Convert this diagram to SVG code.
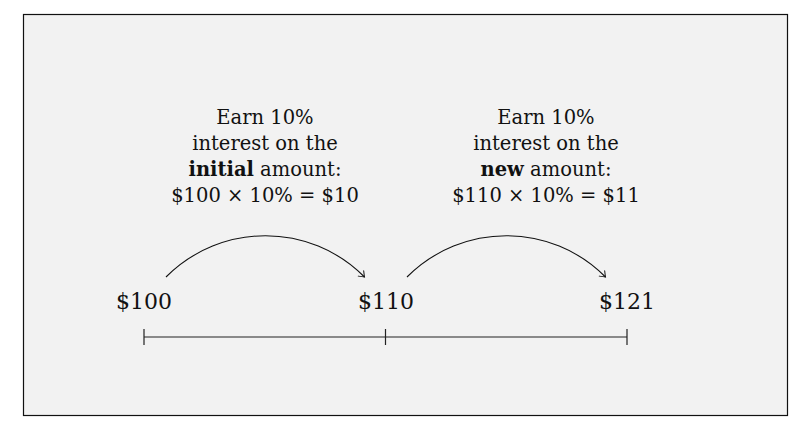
<svg xmlns="http://www.w3.org/2000/svg" width="803" height="426" viewBox="0 0 803 426">
  <style>
    .t { font-family: "DejaVu Serif", "Liberation Serif", serif; font-size: 19.5px; fill: #111; text-anchor: middle; }
    .b { font-weight: bold; }
    .big { font-family: "DejaVu Serif", "Liberation Serif", serif; font-size: 22px; fill: #111; text-anchor: middle; }
    .arc { fill: none; stroke: #111; stroke-width: 1.1; marker-end: url(#arr); }
    .ln { fill: none; stroke: #222; stroke-width: 1.2; }
  </style>
  <defs>
    <marker id="arr" viewBox="-6 -5 8 10" refX="0" refY="0" markerWidth="8" markerHeight="10" markerUnits="userSpaceOnUse" orient="auto">
      <path d="M-5,-3.8 Q-1.5,-1 0,0 Q-1.5,1 -5,3.8" fill="none" stroke="#111" stroke-width="1" stroke-linecap="round"/>
    </marker>
  </defs>
  <rect id="frame" x="23.5" y="14.5" width="764" height="401" fill="#f2f2f2" stroke="#111" stroke-width="1.2"/>

  <g id="note1">
    <text class="t" x="265" y="124">Earn 10%</text>
    <text class="t" x="265" y="150">interest on the</text>
    <text class="t" x="265" y="176"><tspan class="b">initial</tspan> amount:</text>
    <text class="t" x="265" y="202">$100 × 10% = $10</text>
  </g>
  <g id="note2">
    <text class="t" x="546" y="124">Earn 10%</text>
    <text class="t" x="546" y="150">interest on the</text>
    <text class="t" x="546" y="176"><tspan class="b">new</tspan> amount:</text>
    <text class="t" x="546" y="202">$110 × 10% = $11</text>
  </g>

  <g id="v100"><text class="big" x="144" y="309">$100</text></g>
  <g id="v110"><text class="big" x="386" y="309">$110</text></g>
  <g id="v121"><text class="big" x="627" y="309">$121</text></g>

  <g id="connectors">
    <path class="arc" d="M166,277 C221,222 310,222 364.5,277"/>
    <path class="arc" d="M407,277 C462,222 551,222 605.5,277"/>
  </g>

  <g id="numberline">
    <path class="ln" d="M144,337 H627"/>
    <path class="ln" d="M144,329 V345 M385.5,329 V345 M627,329 V345"/>
  </g>
</svg>
